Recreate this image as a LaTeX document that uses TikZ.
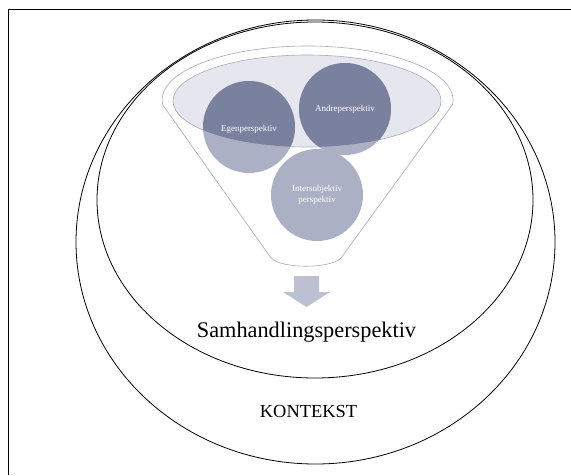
\documentclass[tikz,border=0pt]{standalone}
\usepackage{fontspec}
\setmainfont{Liberation Serif}
\usetikzlibrary{positioning}
\definecolor{funnelline}{RGB}{164,170,195}
\definecolor{rimfill}{RGB}{230,231,238}
\definecolor{darkcirc}{RGB}{122,129,158}
\definecolor{lightcirc}{RGB}{171,176,197}
\definecolor{arrowfill}{RGB}{188,192,208}
\tikzset{>=latex}
\tikzset{perspcircle/.style={circle, minimum size=92pt, inner sep=0pt, fill=lightcirc},
  persptext/.style={text=white, font=\fontsize{9}{11}\selectfont, align=center},
  ring/.style={line width=0.8pt}}

\begin{document}
\begin{tikzpicture}[x=1pt,y=1pt]
\useasboundingbox (0,0) rectangle (571,475);
\draw[line width=1.8pt] (571,465.5) -- (8.5,465.5) -- (8.5,0);
\draw[ring] (315.5,233) ellipse [x radius=239.5, y radius=222];
\draw[ring] (315,275) ellipse [x radius=218, y radius=178];
\draw[funnelline, fill=white, line width=0.6pt] (162.6,370.3) arc[start angle=185, end angle=-5, x radius=145.5, y radius=54]
  -- (341,217) .. controls (330,206) and (282,206) .. (271,217) -- cycle;
\draw[funnelline, fill=rimfill, line width=0.6pt] (307,374) ellipse [x radius=134, y radius=46];
	\node[perspcircle] (egen) at (249,348) {};
	\node[perspcircle] (andre) at (345,366) {};
	\node[perspcircle] (inter) at (317,280) {};
\begin{scope}
\clip (307,374) ellipse [x radius=134, y radius=46];
\fill[darkcirc] (egen.center) circle[radius=46];
\fill[darkcirc] (andre.center) circle[radius=46];
\end{scope}
	\node[persptext, yshift=-2pt] at (egen) {Egenperspektiv};
	\node[persptext] at (andre) {Andreperspektiv};
	\node[persptext] at (inter) {Intersubjektiv\\perspektiv};
\fill[arrowfill] (294,199) -- (319,199) -- (319,183) -- (330,183) -- (306.5,168) -- (283,183) -- (294,183) -- cycle;
	\node[font=\fontsize{22.3}{26}\selectfont] (samhandling) at (306.5,143) {Samhandlingsperspektiv};
	\node[font=\fontsize{18.4}{22}\selectfont] (kontekst) at (308.5,64) {KONTEKST};
\end{tikzpicture}
\end{document}
